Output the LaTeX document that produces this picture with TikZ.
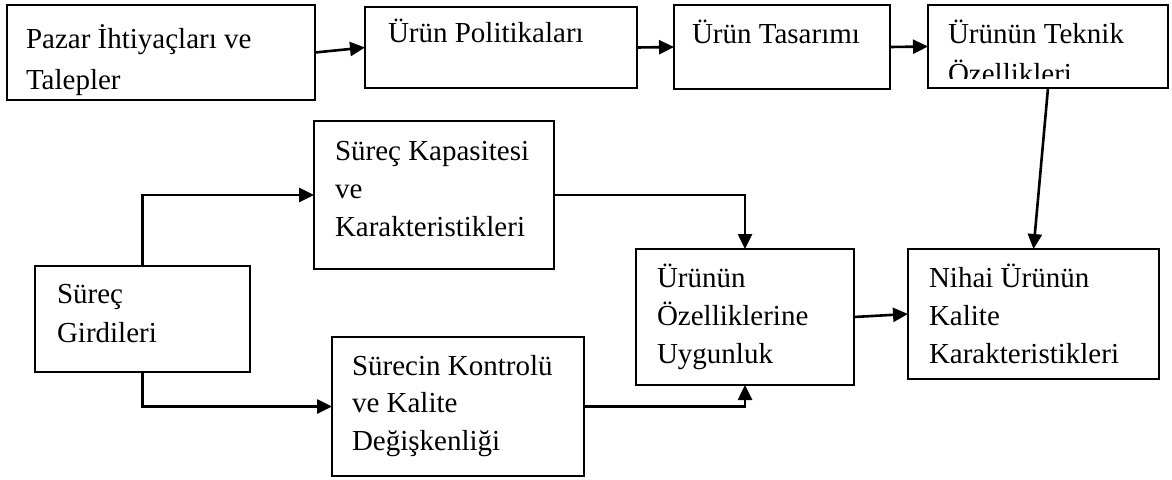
\documentclass[tikz,border=0pt]{standalone}
\usepackage{fontspec}
\setmainfont{Liberation Serif}
\usetikzlibrary{arrows.meta,calc}
% left-aligned block of lines; the first baseline is the node's base
\newcommand{\boxlines}[2][38pt]{\parbox[t]{280pt}{\fontsize{29pt}{#1}\selectfont\raggedright #2}}
\begin{document}
\begin{tikzpicture}[x=1pt,y=-1pt,
  box/.style={draw, line width=2pt, inner sep=0pt, outer sep=0pt, anchor=north west},
  txt/.style={inner sep=0pt, outer sep=0pt, anchor=base west},
  link/.style={line width=2.6pt, -{Triangle[length=15pt,width=14pt]}}]
\useasboundingbox (0,0) rectangle (1172,479);

% frames
\node[box, minimum width=308pt, minimum height=95pt]  (b1)  at (7,5)     {};
\node[box, minimum width=272pt, minimum height=81pt]  (b2)  at (365,7)   {};
\node[box, minimum width=216pt, minimum height=84pt]  (b3)  at (674,5)   {};
\node[box, minimum width=240pt, minimum height=83pt]  (b4)  at (928,5)   {};
\node[box, minimum width=240pt, minimum height=148pt] (kap) at (314,121) {};
\node[box, minimum width=215pt, minimum height=106pt] (gir) at (35,266)  {};
\node[box, minimum width=252pt, minimum height=139pt] (sur) at (332,337) {};
\node[box, minimum width=218pt, minimum height=136pt] (uyg) at (636,249) {};
\node[box, minimum width=251pt, minimum height=130pt] (nih) at (908,249) {};

% labels
\node[txt] (t1) at (26,48)  {\boxlines[41pt]{Pazar İhtiyaçları ve\\Talepler}};
\node[txt] (t2) at (388,42) {\boxlines{Ürün Politikaları}};
\node[txt] (t3) at (692,43) {\boxlines{Ürün Tasarımı}};
\begin{scope}
  \clip (b4.north west) rectangle ($(b4.south east)+(0,-10)$);
  \node[txt] (t4) at (948,43) {\boxlines[40pt]{Ürünün Teknik\\Özellikleri}};
\end{scope}
\node[txt] (tk) at (335,160) {\boxlines{Süreç Kapasitesi\\ve\\Karakteristikleri}};
\node[txt] (tg) at (57,303)  {\boxlines[39pt]{Süreç\\Girdileri}};
\node[txt] (ts) at (352,375) {\boxlines[37.5pt]{Sürecin Kontrolü\\ve Kalite\\Değişkenliği}};
\node[txt] (tu) at (657,287) {\boxlines{Ürünün\\Özelliklerine\\Uygunluk}};
\node[txt] (tn) at (929,287) {\boxlines{Nihai Ürünün\\Kalite\\Karakteristikleri}};

% connectors
\draw[link] (b1.east) -- (b2.west);
\draw[link] (b2.east) -- (b3.west);
\draw[link] (b3.east) -- (b4.west);
\draw[link] (b4.south) -- (nih.north);
\draw[link] (gir.north) |- (kap.west);
\draw[link] (gir.south) |- (sur.west);
\draw[link] (kap.east) -| (uyg.north);
\draw[link] (sur.east) -| (uyg.south);
\draw[link] (uyg.east) -- (nih.west);
\end{tikzpicture}
\end{document}
